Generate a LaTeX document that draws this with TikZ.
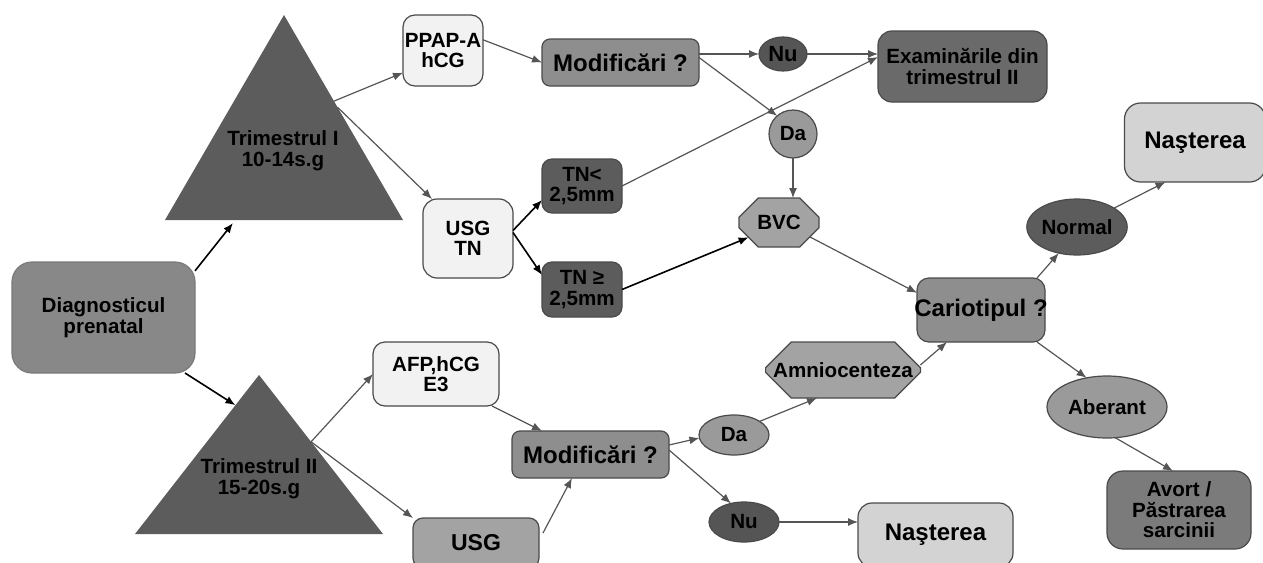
\documentclass[tikz,border=0pt]{standalone}
\usepackage{fontspec}
\setmainfont{Liberation Sans}
\usetikzlibrary{shapes.geometric,shapes.misc,arrows.meta,calc}
\definecolor{cdark}{HTML}{5C5C5C}
\definecolor{cnu}{HTML}{555555}
\definecolor{cexam}{HTML}{6A6A6A}
\definecolor{cdiag}{HTML}{888888}
\definecolor{cmid}{HTML}{8E8E8E}
\definecolor{cavort}{HTML}{7B7B7B}
\definecolor{cda}{HTML}{9A9A9A}
\definecolor{coct}{HTML}{A3A3A3}
\definecolor{cnast}{HTML}{D3D3D3}
\definecolor{clight}{HTML}{F2F2F2}
\definecolor{cline}{HTML}{555555}
\definecolor{cbord}{HTML}{4A4A4A}
\begin{document}
\begin{tikzpicture}[x=0.5pt,y=-0.5pt,
  font=\bfseries\fontsize{10.3}{10.3}\selectfont,
  every node/.style={inner sep=0pt,outer sep=0pt,align=center,text=black},
  rbox/.style={draw=cbord,line width=0.6pt,rounded corners=#1,rectangle},
  rbox/.default=5pt,
  ell/.style={draw=cbord,line width=0.6pt,ellipse},
  oct/.style={draw=cbord,line width=0.6pt,chamfered rectangle},
  big/.style={font=\bfseries\fontsize{12}{12}\selectfont},
  arr/.style={draw=cline,line width=0.6pt,-{Latex[length=5pt,width=4pt]}},
  blk/.style={draw=black,line width=0.8pt,-{Latex[length=5pt,width=4pt]}}
]
\useasboundingbox (0,0) rectangle (1263,562);
\clip (0,0) rectangle (1263,562);

% triangles
\coordinate (t1apex) at (284,15);
\coordinate (t1left) at (165,220);
\coordinate (t1right) at (403,220);
\coordinate (t2apex) at (259,375);
\coordinate (t2left) at (135,534);
\coordinate (t2right) at (383,534);
\fill[cdark] (t1apex) -- (t1left) -- (t1right) -- cycle;
\fill[cdark] (t2apex) -- (t2left) -- (t2right) -- cycle;
\node (tri1) at (283,151) {Trimestrul I\\10-14s.g};
\node (tri2) at (259,479) {Trimestrul II\\15-20s.g};

% nodes
\node[rbox=10pt,fill=cdiag,draw=cdiag!90!black,minimum width=91.5pt,minimum height=55.5pt] (diag) at (103.5,317.5) {Diagnosticul\\prenatal};
\node[rbox=6pt,fill=clight,minimum width=40pt,minimum height=35.5pt] (ppap) at (443,50.5) {PPAP-A\\hCG};
\node[rbox=4pt,fill=cmid,big,minimum width=78.5pt,minimum height=23.5pt] (modif1) at (620.5,62.5) {Modificări ?};
\node[ell,fill=cnu,font=\bfseries\fontsize{11}{11}\selectfont,minimum width=24pt,minimum height=17pt] (nu1) at (783,54) {Nu};
\node[rbox=7pt,fill=cexam,minimum width=84.5pt,minimum height=35.5pt] (exam) at (962.5,66.5) {Examinările din\\trimestrul II};
\node[ell,fill=cda,minimum width=24pt,minimum height=24pt] (da1) at (793,134) {Da};
\node[oct,fill=coct,chamfered rectangle xsep=5.5pt,chamfered rectangle ysep=6pt,minimum width=40pt,minimum height=24.5pt] (bvc) at (779,222.5) {BVC};
\node[rbox=7pt,fill=clight,minimum width=45pt,minimum height=39.5pt] (usgtn) at (468,238.5) {USG\\TN};
\node[rbox=5pt,fill=cdark,minimum width=40pt,minimum height=27pt] (tnlt) at (582,186) {TN<\\2,5mm};
\node[rbox=5pt,fill=cdark,minimum width=40pt,minimum height=27.5pt] (tnge) at (582,289.5) {TN ≥\\2,5mm};
\node[rbox=6pt,fill=cmid,big,minimum width=64pt,minimum height=32pt] (cario) at (981,310) {\makebox[0pt]{Cariotipul ?}};
\node[ell,fill=cdark,minimum width=50pt,minimum height=28pt] (normal) at (1077,227) {Normal};
\node[rbox=8pt,fill=cnast,big,minimum width=70.5pt,minimum height=39.5pt] (nast1) at (1195,142.5) {Naşterea};
\node[ell,fill=cda,minimum width=60pt,minimum height=31pt] (aberant) at (1107,407) {Aberant};
\node[rbox=8pt,fill=cavort,minimum width=72pt,minimum height=39pt] (avort) at (1179,510) {Avort /\\Păstrarea\\sarcinii};
\node[rbox=6pt,fill=clight,minimum width=63pt,minimum height=32pt] (afp) at (436,374) {AFP,hCG\\E3};
\node[rbox=5pt,fill=coct,font=\bfseries\fontsize{11.5}{11.5}\selectfont,minimum width=63pt,minimum height=25pt] (usg2) at (476,543) {USG};
\node[rbox=4pt,fill=cmid,big,minimum width=78.5pt,minimum height=23.5pt] (modif2) at (590.5,454.5) {Modificări ?};
\node[ell,fill=cda,minimum width=35pt,minimum height=20pt] (da2) at (734,435) {Da};
\node[ell,fill=cnu,minimum width=35pt,minimum height=20pt] (nu2) at (744,522) {Nu};
\node[rbox=7pt,fill=cnast,big,minimum width=77.5pt,minimum height=32pt] (nast2) at (935.5,535) {Naşterea};
\node[oct,fill=coct,chamfered rectangle xsep=9.5pt,chamfered rectangle ysep=9pt,minimum width=75pt,minimum height=28pt] (amnio) at (843,370) {Amniocenteza};

% free ends
\coordinate (t1in) at (233,223);
\coordinate (t2in) at ($(t2apex)!0.19!(t2left)$);
\coordinate (t1outa) at ($(t1apex)!0.42!(t1right)$);
\coordinate (t1outb) at ($(t1apex)!0.45!(t1right)$);
\coordinate (t2out) at ($(t2apex)!0.42!(t2right)$);

% connectors
\draw[blk] (diag.27) -- (t1in);
\draw[blk] ($(diag.south east)+(-10,0)$) -- (t2in);
\draw[arr] (t1outa) -- (ppap.209);
\draw[arr] (t1outb) -- ($(usgtn.north west)+(9,0)$);
\draw[arr] (ppap.15) -- (modif1.west);
\draw[arr] (modif1.east |- nu1.west) -- (nu1.west);
\draw[arr] (nu1.east) -- (exam.west |- nu1.east);
\draw[arr] (tnlt.east) -- ($(exam.west |- nu1.east)+(0,3)$);
\draw[arr] ($(modif1.east)+(0,-5)$) -- (da1.131);
\draw[arr] (da1.south) -- (da1.south |- bvc.north);
\draw[blk] ($(usgtn.east)+(0,-8)$) -- ($(tnlt.west)+(0,14)$);
\draw[blk] ($(usgtn.east)+(0,-6)$) -- ($(tnge.west)+(0,-14.5)$);
\draw[blk] (tnge.east) -- (bvc.206);
\draw[arr] (bvc.-25) -- (cario.165);
\draw[arr] ($(cario.north east)+(-8,0)$) -- (normal.235);
\draw[arr] (normal.27) -- ($(nast1.south west)+(41,0)$);
\draw[arr] ($(cario.south east)+(-8,0)$) -- (aberant.125);
\draw[arr] (aberant.-75) -- ($(avort.north west)+(66,0)$);
\draw[arr] (t2out) -- (afp.west);
\draw[arr] (t2out) -- (usg2.north west);
\draw[arr] ($(afp.south east)+(-7,0)$) -- ($(modif2.north west)+(30,0)$);
\draw[arr] ($(usg2.north east)+(4,15)$) -- ($(modif2.south west)+(60,0)$);
\draw[arr] ($(modif2.east)+(0,-9.5)$) -- (da2.185);
\draw[arr] ($(modif2.east)+(0,-4.5)$) -- (nu2.125);
\draw[arr] (nu2.east) -- (nast2.west |- nu2.east);
\draw[arr] (da2.28) -- ($(amnio.south)+(-26,0)$);
\draw[arr] ($(amnio.east)+(0,-5)$) -- ($(cario.south west)+(30,0)$);
\end{tikzpicture}
\end{document}
